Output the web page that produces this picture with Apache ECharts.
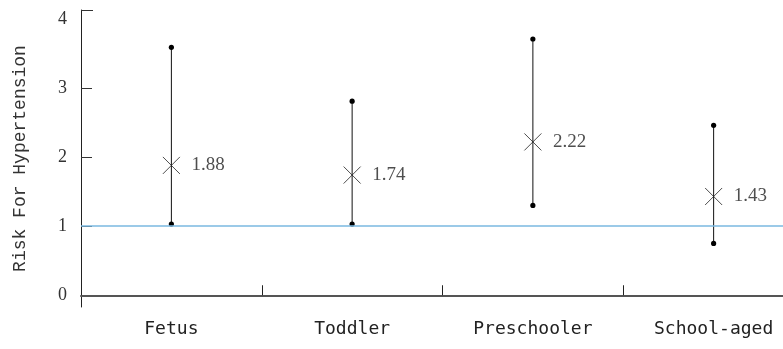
<!DOCTYPE html>
<html>
<head>
<meta charset="utf-8">
<script src="https://cdn.jsdelivr.net/npm/echarts@6/dist/echarts.min.js"></script>
<style>
  html, body { margin: 0; padding: 0; background: #fff; }
  #chart { width: 783px; height: 349px; }
</style>
</head>
<body>
<div id="chart"></div>
<script>
// Risk estimates with confidence intervals by developmental stage
const categories = ['Fetus', 'Toddler', 'Preschooler', 'School-aged'];
const estimates = [1.88, 1.74, 2.22, 1.43];
const lowerBounds = [1.03, 1.03, 1.30, 0.75];
const upperBounds = [3.59, 2.81, 3.71, 2.46];
const referenceLevel = 1;
const yLabelValues = [0, 1, 2, 3, 4];
const yTickValues = [1, 2, 3];

const chart = echarts.init(document.getElementById('chart'), null, { renderer: 'canvas' });

const intervalData = categories.map((c, i) => [i, lowerBounds[i], upperBounds[i]]);
const pointData = categories.map((c, i) => [i, estimates[i]]);

const yMin = -0.17, yMax = 4.13;

chart.setOption({
  animation: false,
  backgroundColor: '#ffffff',
  // the plot area runs past the right edge, so the last band is cut off
  grid: { left: 81, top: 10, width: 723, height: 297, outerBoundsMode: 'none', containLabel: false },
  xAxis: {
    type: 'category',
    data: categories,
    boundaryGap: true,
    axisLine: { show: true, lineStyle: { color: '#555', width: 2 } },
    axisTick: { show: true, inside: true, length: 10, alignWithLabel: false, lineStyle: { color: '#222', width: 1 } },
    axisLabel: { margin: 13, color: '#222', fontFamily: 'DejaVu Sans Mono', fontSize: 18 },
    splitLine: { show: false }
  },
  yAxis: {
    type: 'value',
    min: yMin,
    max: yMax,
    name: 'Risk For Hypertension',
    nameLocation: 'middle',
    nameGap: 52,
    nameRotate: 90,
    nameTextStyle: { color: '#333', fontFamily: 'Liberation Mono', fontSize: 18 },
    axisLine: { show: true, lineStyle: { color: '#222', width: 1 } },
    axisTick: { show: true, inside: true, length: 11, customValues: yTickValues, lineStyle: { color: '#333', width: 1 } },
    axisLabel: { customValues: yLabelValues, margin: 14, color: '#333', fontFamily: 'Liberation Serif', fontSize: 18 },
    splitLine: { show: false }
  },
  series: [
    {
      type: 'custom',
      data: intervalData,
      z: 2,
      clip: false,
      renderItem: function (params, api) {
        const idx = api.value(0);
        const lo = api.coord([idx, api.value(1)]);
        const hi = api.coord([idx, api.value(2)]);
        const children = [
          { type: 'line', shape: { x1: lo[0], y1: lo[1], x2: hi[0], y2: hi[1] }, style: { stroke: '#111', lineWidth: 1 } },
          { type: 'circle', shape: { cx: lo[0], cy: lo[1], r: 2.6 }, style: { fill: '#000' } },
          { type: 'circle', shape: { cx: hi[0], cy: hi[1], r: 2.6 }, style: { fill: '#000' } }
        ];
        if (params.dataIndex === 0) {
          // cap tick at the top end of the value axis
          const left = params.coordSys.x;
          const top = Math.round(params.coordSys.y) + 0.5;
          children.push({ type: 'line', shape: { x1: left, y1: top, x2: left + 12, y2: top }, style: { stroke: '#333', lineWidth: 1 } });
        }
        return { type: 'group', children: children };
      },
      markLine: {
        silent: true,
        symbol: 'none',
        label: { show: false },
        lineStyle: { color: '#7ab8e0', width: 1.5, type: 'solid' },
        data: [{ yAxis: referenceLevel }]
      }
    },
    {
      type: 'scatter',
      data: pointData,
      z: 3,
      symbol: 'path://M0,0L10,10M10,0L0,10',
      symbolSize: 17,
      itemStyle: { color: 'none', borderColor: '#222', borderWidth: 1 },
      label: {
        show: true,
        position: 'right',
        distance: 9,
        color: '#222',
        fontFamily: 'Liberation Serif',
        fontSize: 19,
        formatter: function (p) { return p.value[1].toFixed(2); }
      }
    }
  ]
});
</script>
</body>
</html>
